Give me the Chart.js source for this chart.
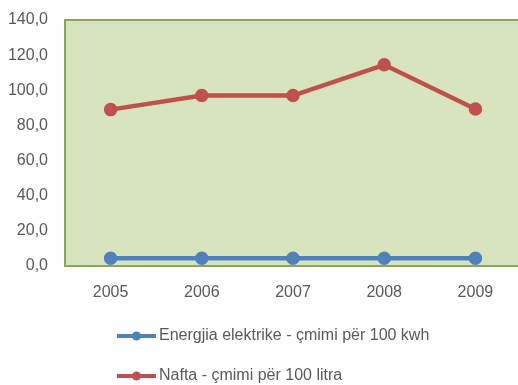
<!DOCTYPE html>
<html>
<head>
<meta charset="utf-8">
<script src="https://cdn.jsdelivr.net/npm/chart.js@4/dist/chart.umd.min.js"></script>
<style>
  html, body { margin: 0; padding: 0; background: #fff; overflow: hidden; }
  canvas { display: block; }
</style>
</head>
<body>
<canvas id="myChart" width="530" height="385"></canvas>
<script>
// data
const years = ['2005', '2006', '2007', '2008', '2009'];
const energjia = [4.4, 4.4, 4.4, 4.4, 4.4];
const nafta = [89.0, 97.0, 97.0, 114.5, 89.3];
const seriesNames = ['Energjia elektrike - çmimi për 100 kwh', 'Nafta - çmimi për 100 litra'];
const yTicks = [0, 20, 40, 60, 80, 100, 120, 140];

const blue = '#4f81bd';
const red = '#c0504d';
const textColor = '#595959';
const fontFamily = '"Liberation Sans", sans-serif';

// green plot background with border
const plotBg = {
    id: 'plotBg',
    beforeDatasetsDraw(chart) {
        const a = chart.chartArea;
        const c = chart.ctx;
        c.save();
        c.fillStyle = '#d7e4bd';
        c.fillRect(a.left, a.top, a.right - a.left, a.bottom - a.top);
        c.strokeStyle = '#8aa65a';
        c.lineWidth = 2;
        c.strokeRect(a.left, a.top, a.right - a.left, a.bottom - a.top);
        c.restore();
    }
};

// two-row legend, line with a dot
const legendRows = {
    id: 'legendRows',
    afterDraw(chart) {
        const c = chart.ctx;
        const rowsY = [336, 376];
        c.save();
        chart.data.datasets.forEach((ds, i) => {
            const y = rowsY[i];
            c.strokeStyle = ds.borderColor;
            c.lineWidth = 4;
            c.beginPath();
            c.moveTo(117, y);
            c.lineTo(156, y);
            c.stroke();
            c.fillStyle = ds.borderColor;
            c.beginPath();
            c.arc(136.5, y, 4.5, 0, Math.PI * 2);
            c.fill();
            c.fillStyle = textColor;
            c.font = '16px ' + fontFamily;
            c.textBaseline = 'middle';
            c.fillText(ds.label, 159, y);
        });
        c.restore();
    }
};

const ctx = document.getElementById('myChart').getContext('2d');

const myChart = new Chart(ctx, {
    type: 'line',
    data: {
        labels: years,
        datasets: [{
            label: seriesNames[0],
            data: energjia,
            borderColor: blue,
            backgroundColor: blue,
            borderWidth: 4.5,
            pointRadius: 4.5,
            pointHoverRadius: 4.5,
            tension: 0
        }, {
            label: seriesNames[1],
            data: nafta,
            borderColor: red,
            backgroundColor: red,
            borderWidth: 4.5,
            pointRadius: 4.5,
            pointHoverRadius: 4.5,
            tension: 0
        }]
    },
    options: {
        responsive: false,
        animation: false,
        layout: { padding: { left: 0, right: 0, top: 20, bottom: 0 } },
        plugins: {
            legend: { display: false },
            tooltip: { enabled: false }
        },
        scales: {
            x: {
                offset: true,
                afterFit(scale) {
                    scale.height = 119;
                    scale.paddingLeft = 0;
                    scale.paddingRight = 0;
                },
                grid: { display: false, drawTicks: false },
                border: { display: false },
                ticks: {
                    color: textColor,
                    font: { family: fontFamily, size: 16 },
                    padding: 17,
                    maxRotation: 0
                }
            },
            y: {
                min: 0,
                max: 140,
                afterFit(scale) {
                    scale.width = 65;
                    scale.paddingTop = 0;
                    scale.paddingBottom = 0;
                },
                afterBuildTicks(scale) { scale.ticks = yTicks.map(v => ({ value: v })); },
                grid: { display: false, drawTicks: false },
                border: { display: false },
                ticks: {
                    color: textColor,
                    font: { family: fontFamily, size: 16 },
                    padding: 17,
                    callback: v => v.toFixed(1).replace('.', ',')
                }
            }
        }
    },
    plugins: [plotBg, legendRows]
});
</script>
</body>
</html>
